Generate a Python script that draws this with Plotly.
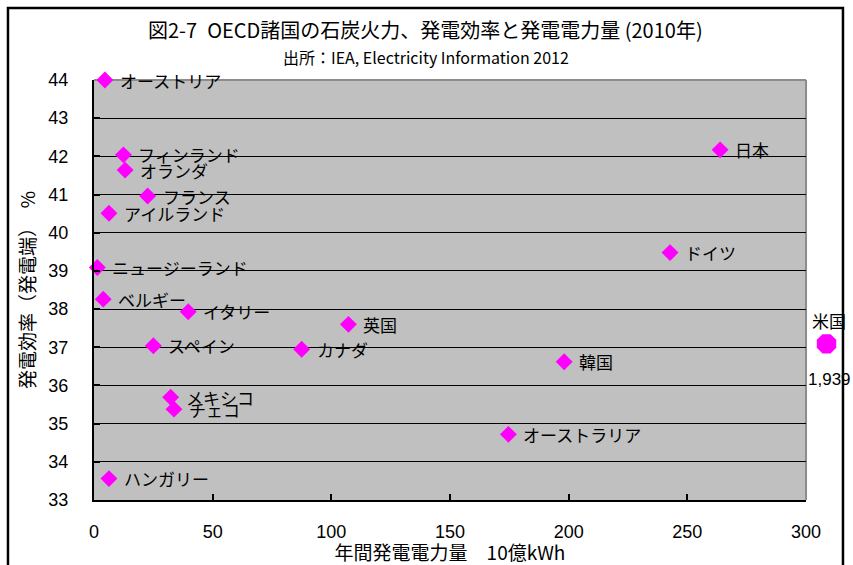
import plotly.graph_objects as go

# Coal-fired power in OECD countries (2010): annual generation (TWh) vs efficiency (%)
countries = ["オーストリア", "フィンランド", "オランダ", "フランス", "アイルランド",
             "ニュージーランド", "ベルギー", "イタリー", "スペイン", "メキシコ",
             "チェコ", "ハンガリー", "カナダ", "英国", "韓国", "オーストラリア",
             "日本", "ドイツ"]
generation = [4.6, 12.4, 13.1, 22.6, 6.3, 1.4, 3.9, 39.7, 25.0, 32.3,
              33.7, 6.3, 87.5, 107.2, 198.1, 174.6, 263.8, 242.7]
efficiency = [44.0, 42.04, 41.64, 40.96, 40.51, 39.09, 38.26, 37.93, 37.04, 35.69,
              35.38, 33.56, 36.95, 37.60, 36.62, 34.72, 42.17, 39.48]

# United States is far beyond the main scale; it gets its own narrow strip to the right
us_name = "米国"
us_generation = 1939
us_efficiency = 37.09

x_ticks = [0, 50, 100, 150, 200, 250, 300]
y_ticks = list(range(33, 45))

CJK = "Noto Sans CJK JP"
NUM = "Liberation Sans"
MAGENTA = "#FF00FF"

MAIN_END = 0.9635  # right end of the main x domain; the rest is the US strip

fig = go.Figure()

fig.add_trace(go.Scatter(
    x=generation, y=efficiency, mode="markers", xaxis="x", yaxis="y",
    marker=dict(symbol="diamond", size=13, color=MAGENTA, line=dict(width=0)),
    cliponaxis=False, hoverinfo="text", text=countries,
))

fig.add_trace(go.Scatter(
    x=[us_generation], y=[us_efficiency], mode="markers", xaxis="x2", yaxis="y2",
    marker=dict(symbol="octagon", size=21, color=MAGENTA, line=dict(width=0)),
    cliponaxis=False, hoverinfo="text", text=[us_name],
))

annotations = []
for name, gx, ey in zip(countries, generation, efficiency):
    annotations.append(dict(
        x=gx, y=ey, xref="x", yref="y", text=name, showarrow=False,
        xanchor="left", yanchor="middle", xshift=13,
        font=dict(family=CJK, size=17, color="black"),
    ))

annotations.append(dict(
    x=us_generation, y=us_efficiency, xref="x2", yref="y2", text=us_name,
    showarrow=False, xanchor="center", yanchor="middle", yshift=23, xshift=2,
    font=dict(family=CJK, size=17, color="black"),
))
annotations.append(dict(
    x=us_generation, y=us_efficiency, xref="x2", yref="y2",
    text=f"{us_generation:,}",
    showarrow=False, xanchor="center", yanchor="middle", yshift=-36, xshift=3,
    font=dict(family=NUM, size=17, color="black"),
))

# Titles
annotations.append(dict(
    x=0.449, y=1.121, xref="paper", yref="paper",
    text="図2-7\u2002OECD諸国の石炭火力、発電効率と発電電力量 (2010年)",
    showarrow=False, xanchor="center", yanchor="middle",
    font=dict(family=CJK, size=20, color="black"),
))
annotations.append(dict(
    x=0.449, y=1.055, xref="paper", yref="paper",
    text="出所：IEA, Electricity Information 2012",
    showarrow=False, xanchor="center", yanchor="middle",
    font=dict(family=CJK, size=16, color="black"),
))

shapes = [
    # grey plot area
    dict(type="rect", xref="paper", yref="paper", x0=0, x1=MAIN_END, y0=0, y1=1,
         fillcolor="#C0C0C0", line=dict(width=0), layer="below"),
    # grey top and right border of the plot area
    dict(type="line", xref="paper", yref="paper", x0=0, x1=MAIN_END, y0=1, y1=1,
         line=dict(color="#8C8C8C", width=2), layer="between"),
    dict(type="line", xref="paper", yref="paper", x0=MAIN_END, x1=MAIN_END,
         y0=0, y1=1, line=dict(color="#8C8C8C", width=2), layer="between"),
    # outer chart frame
    dict(type="rect", xref="paper", yref="paper", x0=-0.1164, x1=1.0135,
         y0=-0.2, y1=1.1714, line=dict(color="black", width=2.5),
         fillcolor="rgba(0,0,0,0)", layer="above"),
]

fig.update_layout(
    width=853, height=565,
    margin=dict(l=94, r=20, t=80, b=65, autoexpand=False),
    paper_bgcolor="white", plot_bgcolor="rgba(0,0,0,0)",
    showlegend=False,
    annotations=annotations,
    shapes=shapes,
    xaxis=dict(
        domain=[0, MAIN_END], anchor="y",
        range=[0, 300], tickvals=x_ticks, ticktext=[str(v) for v in x_ticks],
        showgrid=False, zeroline=False,
        showline=True, linecolor="black", linewidth=2,
        ticks="inside", ticklen=6, tickcolor="black", tickwidth=1.5,
        ticklabelstandoff=14,
        tickfont=dict(family=NUM, size=18, color="black"),
        title=dict(text="年間発電電力量\u300010億kWh", standoff=2,
                   font=dict(family=CJK, size=19, color="black")),
    ),
    yaxis=dict(
        anchor="x",
        range=[33, 44], tickvals=y_ticks, ticktext=[str(v) for v in y_ticks],
        showgrid=True, gridcolor="black", gridwidth=1.2, zeroline=False,
        showline=True, linecolor="black", linewidth=2,
        ticks="inside", ticklen=6, tickcolor="black", tickwidth=1.5,
        ticklabelstandoff=20,
        tickfont=dict(family=NUM, size=18, color="black"),
        title=dict(text="発電効率（発電端）\u3000%", standoff=8,
                   font=dict(family=CJK, size=19, color="black")),
    ),
    xaxis2=dict(
        domain=[MAIN_END, 1], anchor="y2", range=[1923.8, 1943.8],
        visible=False, showgrid=False, zeroline=False,
    ),
    yaxis2=dict(
        anchor="x2", range=[33, 44], visible=False,
        showgrid=False, zeroline=False,
    ),
)

fig.write_html("out.html")
